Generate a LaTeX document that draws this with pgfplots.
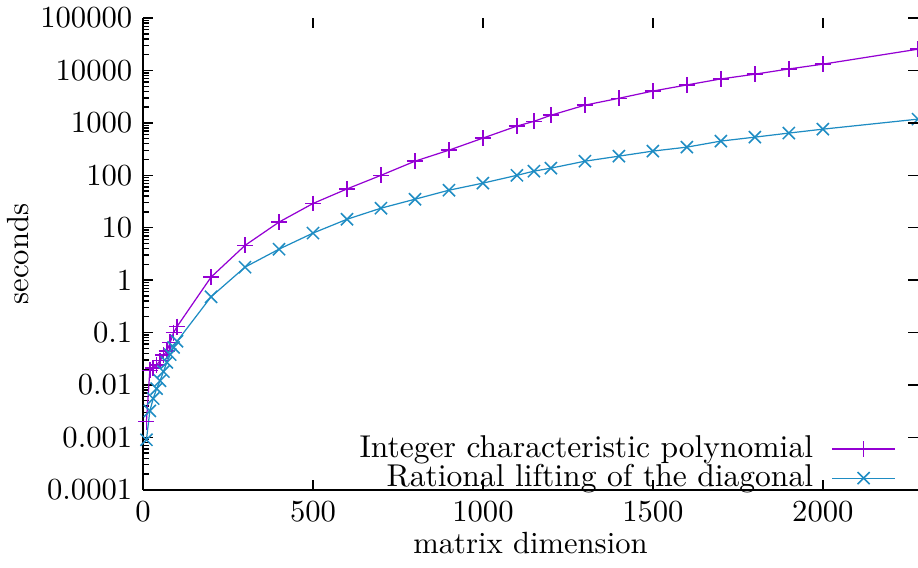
\documentclass[border=0pt]{standalone}
\usepackage{pgfplots}
\pgfplotsset{compat=1.18}
\definecolor{gpviolet}{HTML}{9400D3}
\definecolor{gpblue}{HTML}{1E8CC3}

\begin{document}
\begin{tikzpicture}
\begin{axis}[
  name=main,
  scale only axis, width=253pt, height=154pt,
  xmin=0, xmax=2280, ymode=log, ymin=1e-4, ymax=1e5,
  tick align=inside, major tick length=3.3pt, minor tick length=1.8pt,
  every tick/.style={black,line width=0.45pt},
  xtick={0,500,1000,1500,2000},
  xticklabels={0,500,1000,1500,2000},
  ytick={1e-4,1e-3,1e-2,1e-1,1,10,100,1000,10000,100000},
  axis x line*=bottom, axis y line*=left,
  axis line style={black,line width=0.5pt},
  minor ytick={2e-4,3e-4,4e-4,5e-4,6e-4,7e-4,8e-4,9e-4,
               2e-3,3e-3,4e-3,5e-3,6e-3,7e-3,8e-3,9e-3,
               2e-2,3e-2,4e-2,5e-2,6e-2,7e-2,8e-2,9e-2,
               2e-1,3e-1,4e-1,5e-1,6e-1,7e-1,8e-1,9e-1,
               2,3,4,5,6,7,8,9,20,30,40,50,60,70,80,90,
               200,300,400,500,600,700,800,900,
               2000,3000,4000,5000,6000,7000,8000,9000,
               20000,30000,40000,50000,60000,70000,80000,90000},
  yticklabels={0.0001,0.001,0.01,0.1,1,10,100,1000,10000,100000},
  xlabel={matrix dimension}, ylabel={seconds},
  xlabel shift=-3.5pt, ylabel shift=-3pt,
  legend plot pos=right,
  legend cell align=right,
  legend style={draw=none, fill=none, at={(rel axis cs:0.984,-0.031)},
                anchor=south east, row sep=-3.2pt,
                font=\fontsize{10.3}{12}\selectfont},
  legend image code/.code={%
    \path (0pt,0pt);
    \draw[mark repeat=2,mark phase=2] plot coordinates {(4pt,0pt) (14.3pt,0pt) (24.6pt,0pt)};},
]
% integer charpoly
\addplot[gpviolet, line width=0.4pt, mark=+, mark size=2.6pt,
         mark options={line width=0.5pt}] coordinates {
  (10,0.002) (20,0.019) (30,0.021) (40,0.024) (50,0.029) (60,0.037)
  (70,0.044) (80,0.065) (90,0.1) (100,0.13) (200,1.14) (300,4.6)
  (400,12.8) (500,29) (600,55) (700,100) (800,186) (900,302)
  (1000,513) (1100,870) (1150,1070) (1200,1400) (1300,2180) (1400,2950)
  (1500,4050) (1600,5300) (1700,6900) (1800,8500) (1900,10700)
  (2000,13200) (2280,25500)};
% rational lifting
\addplot[gpblue, line width=0.4pt, mark=x, mark size=2.8pt,
         mark options={line width=0.5pt}] coordinates {
  (10,0.0009) (20,0.0032) (30,0.0055) (40,0.0085) (50,0.012) (60,0.018)
  (70,0.027) (80,0.038) (90,0.052) (100,0.068) (200,0.48) (300,1.77)
  (400,3.9) (500,7.9) (600,14.5) (700,23.6) (800,35) (900,52)
  (1000,71) (1100,100) (1150,120) (1200,137) (1300,186) (1400,232)
  (1500,290) (1600,345) (1700,450) (1800,535) (1900,640)
  (2000,760) (2280,1180)};
\legend{Integer characteristic polynomial, Rational lifting of the diagonal}
\end{axis}
% mirrored major ticks on top and right, no border there
\begin{axis}[
  scale only axis, width=253pt, height=154pt,
  xmin=0, xmax=2280, ymode=log, ymin=1e-4, ymax=1e5,
  tick align=inside, major tick length=3.3pt, minor tick length=0pt,
  every tick/.style={black,line width=0.45pt},
  minor tick style={draw=none},
  xtick={0,500,1000,1500,2000},
  ytick={1e-4,1e-3,1e-2,1e-1,1,10,100,1000,10000,100000},
  axis x line*=top, axis y line*=right,
  axis line style={draw=none},
  xticklabels={}, yticklabels={},
]
\end{axis}
\pgfresetboundingbox
\useasboundingbox ([xshift=-46.7pt,yshift=-25.5pt]main.south west)
  rectangle ([yshift=5.9pt]main.north east);
\end{tikzpicture}
\end{document}
